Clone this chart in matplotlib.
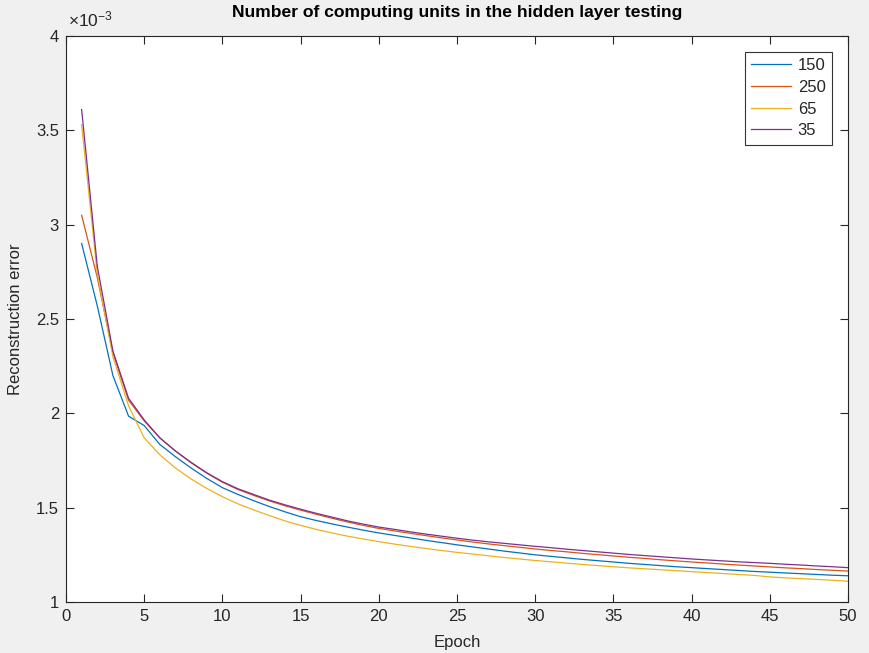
import matplotlib
matplotlib.use("Agg")
import matplotlib.pyplot as plt
import numpy as np

plt.rcParams['font.family'] = ['Liberation Sans', 'DejaVu Sans']

epochs = list(range(1, 51))

# Reconstruction error values (x 1e-3)
units_150 = [2.90, 2.57, 2.20, 1.985, 1.935, 1.835, 1.77, 1.71, 1.655, 1.606,
             1.570, 1.537, 1.506, 1.478, 1.452, 1.432, 1.414, 1.397, 1.381, 1.366,
             1.353, 1.340, 1.327, 1.315, 1.303, 1.292, 1.281, 1.270, 1.260, 1.250,
             1.242, 1.234, 1.226, 1.219, 1.212, 1.205, 1.199, 1.193, 1.187, 1.182,
             1.177, 1.172, 1.167, 1.162, 1.158, 1.154, 1.150, 1.146, 1.142, 1.139]
units_250 = [3.05, 2.72, 2.32, 2.07, 1.96, 1.87, 1.80, 1.738, 1.683, 1.635,
             1.596, 1.565, 1.536, 1.510, 1.487, 1.465, 1.444, 1.424, 1.406, 1.390,
             1.377, 1.364, 1.352, 1.340, 1.329, 1.318, 1.308, 1.299, 1.290, 1.281,
             1.273, 1.266, 1.258, 1.251, 1.244, 1.237, 1.231, 1.224, 1.218, 1.212,
             1.207, 1.201, 1.196, 1.191, 1.186, 1.181, 1.177, 1.172, 1.168, 1.164]
units_65 = [3.53, 2.74, 2.30, 2.04, 1.87, 1.78, 1.71, 1.652, 1.602, 1.558,
            1.520, 1.488, 1.458, 1.430, 1.406, 1.385, 1.366, 1.349, 1.334, 1.320,
            1.307, 1.295, 1.284, 1.273, 1.263, 1.254, 1.245, 1.236, 1.228, 1.220,
            1.213, 1.206, 1.199, 1.193, 1.187, 1.181, 1.176, 1.171, 1.166, 1.161,
            1.156, 1.151, 1.146, 1.141, 1.133, 1.128, 1.124, 1.120, 1.115, 1.110]
units_35 = [3.61, 2.78, 2.33, 2.08, 1.965, 1.87, 1.80, 1.74, 1.685, 1.638,
            1.600, 1.570, 1.540, 1.515, 1.492, 1.470, 1.450, 1.430, 1.413, 1.397,
            1.385, 1.372, 1.360, 1.349, 1.338, 1.328, 1.319, 1.311, 1.303, 1.295,
            1.288, 1.280, 1.273, 1.266, 1.259, 1.252, 1.246, 1.240, 1.234, 1.228,
            1.223, 1.218, 1.213, 1.209, 1.205, 1.200, 1.196, 1.191, 1.187, 1.182]

series_labels = ['150', '250', '65', '35']
series_values = [units_150, units_250, units_65, units_35]
colors = ['#0072BD', '#D95319', '#EDB120', '#7E2F8E']

xticks = [0, 5, 10, 15, 20, 25, 30, 35, 40, 45, 50]
yticks = [1, 1.5, 2, 2.5, 3, 3.5, 4]
ytick_labels = ['1', '1.5', '2', '2.5', '3', '3.5', '4']

fig = plt.figure(figsize=(8.7, 6.53), dpi=100, facecolor='#f0f0f0')
ax = fig.add_axes([66/870, 1-602/653, (848-66)/870, (602-36)/653])
ax.set_facecolor('white')

for lab, vals, c in zip(series_labels, series_values, colors):
    ax.plot(epochs, vals, color=c, lw=0.9, label=lab)

ax.set_xlim(0, 50)
ax.set_ylim(1, 4)
ax.set_xticks(xticks)
ax.set_xticklabels([str(t) for t in xticks])
ax.set_yticks(yticks)
ax.set_yticklabels(ytick_labels)

tc = '#262626'
for s in ax.spines.values():
    s.set_color(tc)
    s.set_linewidth(0.8)
ax.tick_params(direction='in', length=6, width=0.8, colors=tc, labelsize=12,
               top=True, right=True, pad=5)

ax.set_title('Number of computing units in the hidden layer testing',
             fontsize=12.6, fontweight='bold', color='black', pad=14)
ax.set_xlabel('Epoch', fontsize=12, color=tc, labelpad=8)
ax.set_ylabel('Reconstruction error', fontsize=12, color=tc, labelpad=9)

ax.text(0.002, 1.012, r'$\mathregular{\times10^{-3}}$', transform=ax.transAxes,
        fontsize=12.5, color=tc, ha='left', va='bottom')

leg = ax.legend(loc='upper right', bbox_to_anchor=(0.9795, 0.972), fontsize=12,
                frameon=True, fancybox=False, handlelength=2.4, handletextpad=0.4,
                borderpad=0.38, labelspacing=0.4, borderaxespad=0)
leg.get_frame().set_edgecolor('black')
leg.get_frame().set_linewidth(0.8)
for t in leg.get_texts():
    t.set_color(tc)

fig.savefig('out.png', dpi=100, facecolor=fig.get_facecolor())
